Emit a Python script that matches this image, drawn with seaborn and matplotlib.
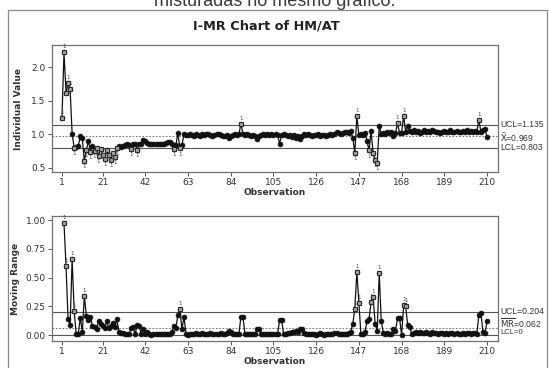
import numpy as np
import pandas as pd
import matplotlib
matplotlib.use("Agg")
import matplotlib.pyplot as plt
import matplotlib.transforms as mtransforms
import seaborn as sns

# ---------------- data ----------------
individual_values = [
    1.25, 2.22, 1.62, 1.76, 1.67, 1.01, 0.80, 0.81, 0.82, 0.97,
    0.94, 0.60, 0.77, 0.90, 0.74, 0.82, 0.75, 0.80, 0.68, 0.78,
    0.70, 0.64, 0.76, 0.70, 0.62, 0.73, 0.66, 0.80, 0.83, 0.81,
    0.83, 0.84, 0.85, 0.84, 0.78, 0.85, 0.86, 0.77, 0.85, 0.86,
    0.91, 0.90, 0.87, 0.86, 0.86, 0.85, 0.86, 0.85, 0.86, 0.85,
    0.86, 0.87, 0.88, 0.89, 0.86, 0.78, 0.84, 1.02, 0.79, 0.84,
    1.00, 0.99, 0.99, 1.00, 0.99, 0.98, 1.00, 0.99, 0.98, 1.00,
    0.99, 1.00, 1.01, 0.99, 0.98, 0.99, 1.00, 1.01, 0.99, 0.98,
    0.97, 0.99, 0.95, 0.98, 0.99, 1.00, 0.99, 1.00, 1.16, 1.00,
    0.99, 1.00, 0.99, 0.98, 0.99, 0.98, 0.93, 0.98, 0.99, 1.00,
    0.99, 1.00, 0.99, 1.00, 0.99, 1.00, 0.99, 0.86, 0.99, 1.00,
    0.99, 0.97, 0.99, 0.96, 0.99, 0.95, 0.98, 0.93, 0.98, 1.00,
    0.99, 1.00, 0.99, 0.98, 0.99, 0.99, 1.00, 0.98, 0.99, 0.99,
    0.98, 0.99, 1.00, 0.99, 1.01, 1.03, 1.02, 1.01, 1.02, 1.03,
    1.04, 1.02, 1.05, 0.95, 0.72, 1.27, 0.99, 1.00, 0.99, 1.02,
    0.90, 0.76, 1.05, 0.72, 0.62, 0.58, 1.12, 1.00, 1.02, 1.01,
    1.03, 1.02, 1.03, 0.98, 1.02, 1.17, 1.02, 1.02, 1.28, 1.03,
    1.12, 1.05, 1.04, 1.06, 1.03, 1.05, 1.02, 1.04, 1.06, 1.03,
    1.05, 1.04, 1.07, 1.05, 1.03, 1.04, 1.02, 1.04, 1.05, 1.03,
    1.04, 1.06, 1.04, 1.03, 1.05, 1.04, 1.03, 1.05, 1.04, 1.06,
    1.04, 1.05, 1.03, 1.05, 1.04, 1.22, 1.03, 1.06, 1.08, 0.96,
]

# moving ranges, observations 2..210
moving_ranges = [
    0.97, 0.60, 0.14, 0.09, 0.66, 0.21, 0.01, 0.01, 0.15,
    0.03, 0.34, 0.17, 0.13, 0.16, 0.08, 0.07, 0.05, 0.12, 0.10,
    0.08, 0.06, 0.12, 0.06, 0.08, 0.11, 0.07, 0.14, 0.03, 0.02,
    0.02, 0.01, 0.01, 0.01, 0.06, 0.07, 0.01, 0.09, 0.08, 0.01,
    0.05, 0.01, 0.03, 0.01, 0.00, 0.01, 0.01, 0.01, 0.01, 0.01,
    0.01, 0.01, 0.01, 0.01, 0.03, 0.08, 0.06, 0.18, 0.23, 0.05,
    0.16, 0.01, 0.00, 0.01, 0.01, 0.01, 0.02, 0.01, 0.01, 0.02,
    0.01, 0.01, 0.01, 0.02, 0.01, 0.01, 0.01, 0.01, 0.02, 0.01,
    0.01, 0.02, 0.04, 0.03, 0.01, 0.01, 0.01, 0.01, 0.16, 0.16,
    0.01, 0.01, 0.01, 0.01, 0.01, 0.01, 0.05, 0.05, 0.01, 0.01,
    0.01, 0.01, 0.01, 0.01, 0.01, 0.01, 0.01, 0.13, 0.13, 0.01,
    0.01, 0.02, 0.02, 0.03, 0.03, 0.04, 0.03, 0.05, 0.05, 0.02,
    0.01, 0.01, 0.01, 0.01, 0.01, 0.00, 0.01, 0.02, 0.01, 0.00,
    0.01, 0.01, 0.01, 0.01, 0.02, 0.02, 0.01, 0.01, 0.01, 0.01,
    0.01, 0.02, 0.03, 0.10, 0.23, 0.55, 0.28, 0.01, 0.01, 0.03,
    0.12, 0.14, 0.29, 0.33, 0.10, 0.04, 0.54, 0.12, 0.02, 0.01,
    0.02, 0.01, 0.01, 0.05, 0.04, 0.15, 0.15, 0.00, 0.26, 0.25,
    0.09, 0.07, 0.01, 0.02, 0.03, 0.02, 0.03, 0.02, 0.02, 0.03,
    0.02, 0.01, 0.03, 0.02, 0.02, 0.01, 0.02, 0.02, 0.01, 0.02,
    0.01, 0.02, 0.02, 0.01, 0.02, 0.01, 0.01, 0.02, 0.01, 0.02,
    0.02, 0.01, 0.02, 0.02, 0.01, 0.18, 0.19, 0.03, 0.02, 0.12,
]

x_ticks = [1, 21, 42, 63, 84, 105, 126, 147, 168, 189, 210]
i_yticks = [0.5, 1.0, 1.5, 2.0]
mr_yticks = [0.00, 0.25, 0.50, 0.75, 1.00]

i_ucl, i_center, i_lcl = 1.135, 0.969, 0.803
mr_ucl, mr_center, mr_lcl = 0.204, 0.062, 0.0

title = "I-MR Chart of HM/AT"
doc_text = "misturadas no mesmo gráfico."

# ---------------- figure ----------------
sns.set_theme(style="white")
plt.rcParams["font.family"] = ["DejaVu Sans"]

W, H = 549, 368
fig = plt.figure(figsize=(W / 100, H / 100), dpi=100)
fig.patch.set_facecolor("white")

# cropped document line at top
fig.text(275 / W, 1 - 1 / H, doc_text, ha="center", va="center",
         fontsize=13, color="#3a3a3a", family=["Liberation Sans", "DejaVu Sans"])

# outer graph frame
fig.add_artist(plt.Rectangle((7.5 / W, -0.01), (546.5 - 7.5) / W, (368 - 9.5) / H + 0.01,
                             transform=fig.transFigure, fill=False,
                             edgecolor="#8a8a8a", lw=0.9))

fig.text(266 / W, 1 - 26 / H, title, ha="center", va="center",
         fontsize=9.3, fontweight="bold", color="#222222")

ax1 = fig.add_axes([52 / W, 1 - 172 / H, 446 / W, 127 / H])
ax2 = fig.add_axes([52 / W, 1 - 341 / H, 446 / W, 125 / H])

df_i = pd.DataFrame({"obs": np.arange(1, len(individual_values) + 1),
                     "value": individual_values})
df_mr = pd.DataFrame({"obs": np.arange(2, len(moving_ranges) + 2),
                      "value": moving_ranges})


def draw(ax, df, ucl, center, lcl):
    ax.axhline(ucl, color="#555555", lw=0.8, zorder=1)
    ax.axhline(lcl, color="#555555", lw=0.8, zorder=1)
    ax.axhline(center, color="#777777", lw=0.8, ls=(0, (1.5, 1.5)), zorder=1)
    sns.lineplot(data=df, x="obs", y="value", ax=ax, color="#111111", lw=0.9,
                 marker="o", markersize=3.5, markeredgecolor="#111111",
                 markeredgewidth=0.5, zorder=2)
    flag = df[(df["value"] > ucl) | (df["value"] < lcl)]
    sns.scatterplot(data=flag, x="obs", y="value", ax=ax, marker="s", s=12,
                    color="#9a9a9a", edgecolor="#222222", linewidth=0.6, zorder=3)
    for o, v in zip(flag["obs"], flag["value"]):
        above = v > ucl
        ax.annotate("1", (o, v), xytext=(0, 2.2 if above else -2.2),
                    textcoords="offset points", ha="center",
                    va="bottom" if above else "top", fontsize=4, color="#444444")


draw(ax1, df_i, i_ucl, i_center, i_lcl)
draw(ax2, df_mr, mr_ucl, mr_center, mr_lcl)

for ax in (ax1, ax2):
    ax.set_xlim(-3.9, 215.4)
    ax.set_xticks(x_ticks)
    ax.set_xticklabels([str(t) for t in x_ticks])
    for s in ax.spines.values():
        s.set_color("#707070")
        s.set_linewidth(0.9)
    ax.tick_params(axis="both", which="major", length=3, width=0.7, color="#555555",
                   labelsize=6.5, labelcolor="#333333", pad=1.5, direction="out",
                   bottom=True, left=True)
    ax.set_xlabel("Observation", fontsize=6.5, fontweight="bold", color="#333333",
                  labelpad=0.5)

ax1.set_ylim(0.44, 2.33)
ax1.set_yticks(i_yticks)
ax1.set_yticklabels(["0.5", "1.0", "1.5", "2.0"])
ax1.set_ylabel("Individual Value", fontsize=6.5, fontweight="bold", color="#333333",
               labelpad=6)

ax2.set_ylim(-0.05, 1.035)
ax2.set_yticks(mr_yticks)
ax2.set_yticklabels(["0.00", "0.25", "0.50", "0.75", "1.00"])
ax2.set_ylabel("Moving Range", fontsize=6.5, fontweight="bold", color="#333333",
               labelpad=4)

lab_kw = dict(fontsize=6.2, color="#333333", ha="left", va="center",
              annotation_clip=False, family=["Liberation Sans", "DejaVu Sans"])
tr1 = mtransforms.blended_transform_factory(ax1.transAxes, ax1.transData)
ax1.annotate(f"UCL={i_ucl}", (1.0, i_ucl), xycoords=tr1, xytext=(1.5, 0.5),
             textcoords="offset points", **lab_kw)
ax1.annotate(r"$\bar{\mathrm{X}}$" + f"={i_center}", (1.0, i_center), xycoords=tr1,
             xytext=(1.5, -0.5), textcoords="offset points", **lab_kw)
ax1.annotate(f"LCL={i_lcl}", (1.0, i_lcl), xycoords=tr1, xytext=(1.5, 0),
             textcoords="offset points", **lab_kw)

tr2 = mtransforms.blended_transform_factory(ax2.transAxes, ax2.transData)
ax2.annotate(f"UCL={mr_ucl}", (1.0, mr_ucl), xycoords=tr2, xytext=(1.5, 0.5),
             textcoords="offset points", **lab_kw)
ax2.annotate(r"$\overline{\mathrm{MR}}$" + f"={mr_center}", (1.0, mr_center),
             xycoords=tr2, xytext=(1.5, 3.5), textcoords="offset points", **lab_kw)
ax2.annotate(f"LCL={mr_lcl:g}", (1.0, mr_lcl), xycoords=tr2, xytext=(1.5, 2.0),
             textcoords="offset points", **dict(lab_kw, fontsize=5.5))

fig.savefig("out.png", dpi=100, facecolor="white")
